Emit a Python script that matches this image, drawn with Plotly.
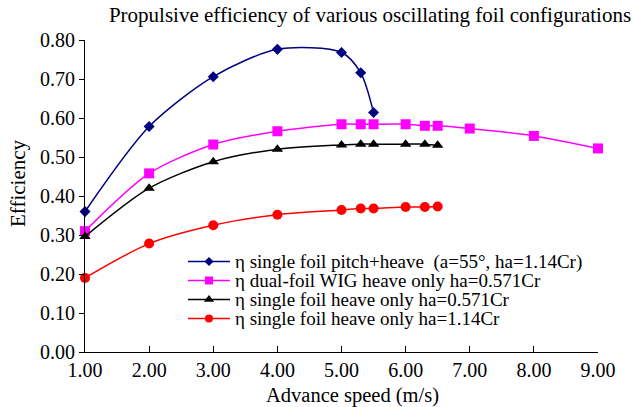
import plotly.graph_objects as go

# Advance speed (m/s) and propulsive efficiency for each foil configuration
speed_pitch_heave = [1, 2, 3, 4, 5, 5.3, 5.5]
eff_pitch_heave = [0.360, 0.578, 0.706, 0.776, 0.768, 0.716, 0.614]

speed_dual_wig = [1, 2, 3, 4, 5, 5.3, 5.5, 6, 6.3, 6.5, 7, 8, 9]
eff_dual_wig = [0.310, 0.458, 0.532, 0.566, 0.584, 0.584, 0.584, 0.584, 0.580,
                0.580, 0.573, 0.554, 0.522]

speed_heave_0571 = [1, 2, 3, 4, 5, 5.3, 5.5, 6, 6.3, 6.5]
eff_heave_0571 = [0.296, 0.420, 0.488, 0.520, 0.531, 0.533, 0.533, 0.533, 0.533, 0.530]

speed_heave_114 = [1, 2, 3, 4, 5, 5.3, 5.5, 6, 6.3, 6.5]
eff_heave_114 = [0.190, 0.278, 0.325, 0.352, 0.364, 0.368, 0.368, 0.372, 0.372, 0.373]

x_ticks = [1, 2, 3, 4, 5, 6, 7, 8, 9]
y_ticks = [0, 0.1, 0.2, 0.3, 0.4, 0.5, 0.6, 0.7, 0.8]

names = [
    "η single foil pitch+heave  (a=55°, ha=1.14Cr)",
    "η dual-foil WIG heave only ha=0.571Cr",
    "η single foil heave only ha=0.571Cr",
    "η single foil heave only ha=1.14Cr",
]

FONT = "Liberation Serif"
W, H = 634, 407
L, R, T, B = 85, 36, 40, 55
PW, PH = W - L - R, H - T - B


def px(xp):
    """Horizontal pixel position -> paper fraction."""
    return (xp - L) / PW


def py(yp):
    """Vertical pixel position (from top) -> paper fraction."""
    return (H - B - yp) / PH


series = [
    (speed_pitch_heave, eff_pitch_heave, "#000080", "diamond", 8.5, 7),
    (speed_dual_wig, eff_dual_wig, "#FF00FF", "square", 10, 8),
    (speed_heave_0571, eff_heave_0571, "#000000", "triangle-up", 10, 9),
    (speed_heave_114, eff_heave_114, "#FF0000", "circle", 10, 8),
]

fig = go.Figure()
for (xs, ys, color, symbol, size, _), name in zip(series, names):
    fig.add_trace(go.Scatter(
        x=xs, y=ys, name=name, mode="lines+markers",
        line=dict(color=color, width=1.5, shape="spline", smoothing=0.8),
        marker=dict(symbol=symbol, size=size, color=color),
        cliponaxis=False, showlegend=False,
    ))

# Legend block: key samples on a helper overlay axis (paper units) plus text labels
legend_x0, legend_x1 = px(188), px(230)
legend_text_x = px(233)
row_y = [py(261.5), py(280.5), py(299.5), py(318.5)]

annotations = []
for (xs, ys, color, symbol, size, key_size), name, ry in zip(series, names, row_y):
    fig.add_trace(go.Scatter(
        x=[legend_x0, (legend_x0 + legend_x1) / 2, legend_x1], y=[ry, ry, ry],
        xaxis="x2", yaxis="y2", mode="lines",
        line=dict(color=color, width=1.5), showlegend=False, hoverinfo="skip",
    ))
    fig.add_trace(go.Scatter(
        x=[(legend_x0 + legend_x1) / 2], y=[ry],
        xaxis="x2", yaxis="y2", mode="markers",
        marker=dict(symbol=symbol, size=key_size, color=color),
        showlegend=False, hoverinfo="skip",
    ))
    annotations.append(dict(
        text=name, xref="paper", yref="paper", x=legend_text_x, y=ry,
        xanchor="left", yanchor="middle", showarrow=False,
        font=dict(family=FONT, size=19, color="black"),
    ))

# Axis titles
annotations.append(dict(
    text="Advance speed (m/s)", xref="paper", yref="paper",
    x=px(352), y=py(395), xanchor="center", yanchor="middle", showarrow=False,
    font=dict(family=FONT, size=20.5, color="black"),
))
annotations.append(dict(
    text="Efficiency", xref="paper", yref="paper", textangle=-90,
    x=px(18), y=py(183), xanchor="center", yanchor="middle", showarrow=False,
    font=dict(family=FONT, size=21, color="black"),
))

fig.update_layout(
    width=W, height=H,
    margin=dict(l=L, r=R, t=T, b=B),
    paper_bgcolor="white", plot_bgcolor="white",
    font=dict(family=FONT, size=20, color="black"),
    title=dict(text="Propulsive efficiency of various oscillating foil configurations",
               xref="paper", x=px(370), xanchor="center",
               y=1 - 15 / H, yanchor="middle",
               font=dict(family=FONT, size=21, color="black")),
    showlegend=False,
    annotations=annotations,
    xaxis=dict(range=[1, 9], tickvals=x_ticks, tickformat=".2f",
               showgrid=False, zeroline=False, showline=True, linecolor="black",
               linewidth=1, ticks="inside", ticklen=6, tickcolor="black",
               tickfont=dict(family=FONT, size=20)),
    yaxis=dict(range=[0, 0.8], tickvals=y_ticks, tickformat=".2f",
               showgrid=False, zeroline=False, showline=True, linecolor="black",
               linewidth=1, ticks="outside", ticklen=5, tickcolor="black",
               tickfont=dict(family=FONT, size=20)),
    xaxis2=dict(range=[0, 1], overlaying="x", visible=False, fixedrange=True),
    yaxis2=dict(range=[0, 1], overlaying="y", visible=False, fixedrange=True),
)

fig.write_html("out.html")
